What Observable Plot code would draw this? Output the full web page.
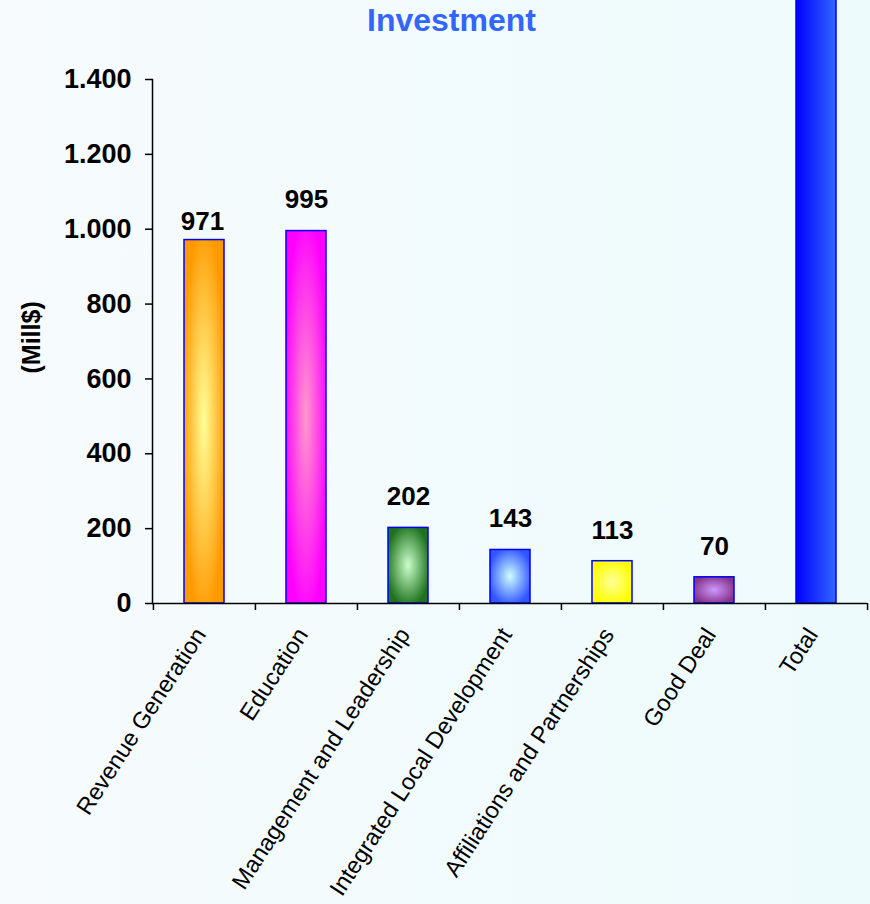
<!DOCTYPE html>
<html>
<head>
<meta charset="utf-8">
<script src="https://cdn.jsdelivr.net/npm/d3@7"></script>
<script src="https://cdn.jsdelivr.net/npm/@observablehq/plot@0.6"></script>
<style>
  html, body { margin: 0; padding: 0; }
  body {
    width: 870px; height: 904px; overflow: hidden;
    background: linear-gradient(90deg, #F7FBFD 0%, #F2FBFD 50%, #EEFBFC 100%);
    font-family: "Liberation Sans", Arial, sans-serif;
  }
  #wrap { position: relative; width: 870px; height: 904px; }
  #title {
    position: absolute; left: 0; top: 1px; width: 903px; text-align: center;
    font-size: 32px; font-weight: bold; color: #3366FF; z-index: 2; line-height: 38px;
  }
  #chart { position: absolute; left: 0; top: 0; }
</style>
</head>
<body>
<div id="wrap">
  <div id="title">Investment</div>
  <div id="chart"></div>
</div>
<script>
// ---- data ----
const categories = [
  "Revenue Generation",
  "Education",
  "Management and Leadership",
  "Integrated Local Development",
  "Affiliations and Partnerships",
  "Good Deal",
  "Total"
];
const values = [971, 995, 202, 143, 113, 70, 2494];
const valueLabels = ["971", "995", "202", "143", "113", "70", ""];
const yTicks = [0, 200, 400, 600, 800, 1000, 1200, 1400];

// ---- styles ----
const edgeColors   = ["#FF9900", "#FF00FF", "#1F731F", "#3355FF", "#FFFF00", "#86338A", "#0000FF"];
const centerColors = ["#FFFF99", "#FF99CC", "#CCFFCC", "#CCFFFF", "#FFFF99", "#CC99FF", "#3366FF"];

const data = categories.map((c, i) => ({
  cat: c, value: values[i], label: valueLabels[i], idx: i, grad: `url(#grad${i})`
}));

const fmt = d3.formatLocale({decimal: ",", thousands: ".", grouping: [3], currency: ["", ""]}).format(",");

const W = 870, H = 904, mL = 152, mR = 3, mT = 79, mB = 301;
const bw = (W - mL - mR) / categories.length;
const font = "'Liberation Sans', Arial, sans-serif";

const plot = Plot.plot({
  width: W, height: H,
  marginTop: mT, marginBottom: mB, marginLeft: mL, marginRight: mR,
  style: {background: "transparent", fontFamily: font, overflow: "hidden"},
  x: {domain: categories, paddingInner: 0, paddingOuter: 0},
  y: {domain: [0, 1400]},
  color: {type: "identity"},
  marks: [
    Plot.barY(data, {
      x: "cat", y: "value", fill: "grad",
      stroke: "#0000FF", strokeWidth: 1.5,
      insetLeft: 31, insetRight: 31
    }),
    Plot.text(data.filter(d => d.idx === 0), {
      x: "cat", y: "value", text: "label", dy: -18, dx: -2,
      fontSize: 26, fontWeight: "bold", fill: "black"
    }),
    Plot.text(data.filter(d => d.idx > 0 && d.label), {
      x: "cat", y: "value", text: "label", dy: -31,
      fontSize: 26, fontWeight: "bold", fill: "black"
    }),
    Plot.frame({anchor: "left", stroke: "black", strokeWidth: 1.5}),
    Plot.ruleY([0], {stroke: "black", strokeWidth: 1.5}),
    Plot.axisY({
      ticks: yTicks, tickFormat: fmt, tickSize: 7, tickPadding: 14,
      fontSize: 27, fontWeight: "bold", label: null, strokeWidth: 1.5
    }),
    Plot.text(["(Mill$)"], {
      frameAnchor: "left", dx: -121, dy: 32, rotate: -90,
      fontSize: 25, fontWeight: "bold", fill: "black"
    }),
    Plot.axisX({
      tickSize: 7, tickFormat: () => "", dx: -bw / 2, label: null, strokeWidth: 1.5
    }),
    Plot.axisX({
      ticks: [categories[categories.length - 1]],
      tickSize: 7, tickFormat: () => "", dx: bw / 2, label: null, strokeWidth: 1.5
    }),
    Plot.axisX({
      tickSize: 0, tickRotate: -57, tickPadding: 27, dx: -4,
      fontSize: 23.5, label: null
    })
  ]
});

// gradient definitions
const ns = "http://www.w3.org/2000/svg";
const defs = document.createElementNS(ns, "defs");
categories.forEach((c, i) => {
  let g;
  if (i === categories.length - 1) {
    g = document.createElementNS(ns, "linearGradient");
    g.setAttribute("x1", "0"); g.setAttribute("x2", "1");
    g.setAttribute("y1", "0"); g.setAttribute("y2", "0");
    const s1 = document.createElementNS(ns, "stop");
    s1.setAttribute("offset", "0"); s1.setAttribute("stop-color", edgeColors[i]);
    const s2 = document.createElementNS(ns, "stop");
    s2.setAttribute("offset", "1"); s2.setAttribute("stop-color", centerColors[i]);
    g.append(s1, s2);
  } else {
    g = document.createElementNS(ns, "radialGradient");
    g.setAttribute("cx", "0.5"); g.setAttribute("cy", "0.5"); g.setAttribute("r", "0.55");
    const s1 = document.createElementNS(ns, "stop");
    s1.setAttribute("offset", "0"); s1.setAttribute("stop-color", centerColors[i]);
    const s2 = document.createElementNS(ns, "stop");
    s2.setAttribute("offset", "1"); s2.setAttribute("stop-color", edgeColors[i]);
    g.append(s1, s2);
  }
  g.setAttribute("id", `grad${i}`);
  defs.append(g);
});
plot.insertBefore(defs, plot.firstChild);

document.getElementById("chart").append(plot);
</script>
</body>
</html>
